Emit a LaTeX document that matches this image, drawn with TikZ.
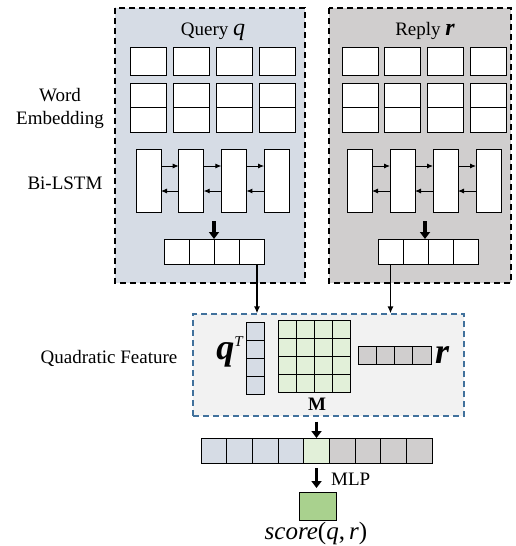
\documentclass[tikz,border=0pt]{standalone}
\usepackage{fontspec}
\setmainfont{Liberation Serif}
\usetikzlibrary{arrows.meta}
\definecolor{qblue}{HTML}{D6DCE5}
\definecolor{rgray}{HTML}{D0CECE}
\definecolor{mgreen}{HTML}{E2F0D9}
\definecolor{sgreen}{HTML}{A9D18E}
\definecolor{dblue}{HTML}{41719C}
\definecolor{qfbg}{HTML}{F2F2F2}
\begin{document}
\begin{tikzpicture}[x=1pt,y=-1pt,
  cell/.style={draw=black, line width=1pt, fill=white, inner sep=0pt, outer sep=0pt},
  panel/.style={draw=black, line width=1.5pt, dash pattern=on 6pt off 4pt},
  qfpanel/.style={draw=dblue, line width=1.2pt, dash pattern=on 6pt off 4pt, fill=qfbg, inner sep=0pt},
  smallarr/.style={-{Latex[length=6pt,width=5pt]}, line width=0.9pt},
  bigarr/.style={-{Triangle[length=7pt,width=10pt]}, line width=3.3pt},
  conn/.style={-{Latex[length=7pt,width=6pt]}, line width=1.4pt},
  lbl/.style={font=\fontsize{19}{23}\selectfont, inner sep=0pt, align=center},
]
\useasboundingbox (0,0) rectangle (515,546);

% panels
\path[panel, fill=qblue] (115,8) rectangle (305,283);
\path[panel, fill=rgray] (329,8) rectangle (511,283);
\node[qfpanel, minimum width=271pt, minimum height=102pt] (qf) at (328.5,365) {};

% titles
\node[lbl, anchor=base] (qtitle) at (213,35) {Query {\fontsize{24}{24}\selectfont\itshape q}};
\node[lbl, anchor=base] (rtitle) at (425,35) {Reply {\fontsize{24}{24}\selectfont\bfseries\itshape r}};

% left labels
\node[lbl] (we) at (60,108) {Word\\Embedding};
\node[lbl, anchor=base] (bil) at (65,189) {Bi-LSTM};
\node[lbl, anchor=base] (qfl) at (109,363) {Quadratic Feature};

% query side
\foreach \i in {1,...,4} {
  \node[cell, minimum width=36pt, minimum height=28pt, anchor=north west] (qe\i) at ({130+43*(\i-1)},47) {};
  \node[cell, minimum width=36pt, minimum height=24.5pt, anchor=north west] (qwa\i) at ({130+43*(\i-1)},83) {};
  \node[cell, minimum width=36pt, minimum height=24.5pt, anchor=north west] (qwb\i) at (qwa\i.south west) {};
  \node[cell, minimum width=25pt, minimum height=63pt, anchor=north west] (ql\i) at ({136+42.7*(\i-1)},149) {};
  \node[cell, minimum width=25pt, minimum height=25pt, anchor=north west] (qv\i) at ({164+25*(\i-1)},239) {};
}
% reply side
\foreach \i in {1,...,4} {
  \node[cell, minimum width=36pt, minimum height=28pt, anchor=north west] (re\i) at ({342+42.67*(\i-1)},47) {};
  \node[cell, minimum width=36pt, minimum height=24.5pt, anchor=north west] (rwa\i) at ({342+42.67*(\i-1)},83) {};
  \node[cell, minimum width=36pt, minimum height=24.5pt, anchor=north west] (rwb\i) at (rwa\i.south west) {};
  \node[cell, minimum width=25pt, minimum height=63pt, anchor=north west] (rl\i) at ({347+43*(\i-1)},149) {};
  \node[cell, minimum width=25pt, minimum height=25pt, anchor=north west] (rv\i) at ({378+25*(\i-1)},239) {};
}
\foreach \i/\j in {1/2,2/3,3/4} {
  \draw[smallarr] ([yshift=14.5pt]ql\i.east) -- ([yshift=14.5pt]ql\j.west);
  \draw[smallarr] ([yshift=-10.5pt]ql\j.west) -- ([yshift=-10.5pt]ql\i.east);
  \draw[smallarr] ([yshift=14.5pt]rl\i.east) -- ([yshift=14.5pt]rl\j.west);
  \draw[smallarr] ([yshift=-10.5pt]rl\j.west) -- ([yshift=-10.5pt]rl\i.east);
}
\coordinate (qa) at (214,221);
\coordinate (ra) at (425,221);
\draw[bigarr] (qa) -- (qa |- qv2.north);
\draw[bigarr] (ra) -- (ra |- rv2.north);

% connectors to quadratic feature
\path ([xshift=5.5pt]qv4.south) coordinate (qd);
\draw[conn] (qd) -- (qd |- qf.north);
\draw[conn] (rv1.south) -- (rv1.south |- qf.north);

% quadratic feature content
\foreach \j in {1,...,4} {
  \node[cell, fill=qblue, minimum size=18pt, anchor=north west] (qt\j) at (246,{322+18*(\j-1)}) {};
  \node[cell, fill=rgray, minimum width=18.25pt, minimum height=18pt, anchor=north west] (rr\j) at ({358+18.25*(\j-1)},346) {};
  \foreach \i in {1,...,4} {
    \node[cell, fill=mgreen, minimum size=18pt, anchor=north west] (m\i\j) at ({278+18*(\i-1)},{320+18*(\j-1)}) {};
  }
}
\node[inner sep=0pt, anchor=base east] (qtl) at (243,359) {{\fontsize{36}{36}\selectfont\bfseries\itshape q}\raisebox{13pt}{\fontsize{15}{15}\selectfont\itshape T}};
\node[inner sep=0pt, anchor=west] (rlab) at (435,355) {\fontsize{36}{36}\selectfont\bfseries\itshape r};
\node[inner sep=0pt, font=\fontsize{19}{19}\selectfont\bfseries] (ml) at (317,404) {M};

% concatenated vector
\foreach \i/\c in {1/qblue,2/qblue,3/qblue,4/qblue,5/mgreen,6/rgray,7/rgray,8/rgray,9/rgray} {
  \node[cell, fill=\c, minimum width=25.67pt, minimum height=25pt, anchor=north west] (cv\i) at ({201+25.67*(\i-1)},438) {};
}
\path (qf.south -| cv5.north) coordinate (t1);
\draw[bigarr, shorten <=5pt] (t1) -- (cv5.north);

% score
\node[cell, fill=sgreen, minimum width=37pt, minimum height=28pt, anchor=north west] (sc) at (299,492) {};
\draw[bigarr, shorten <=5pt, shorten >=4pt] (cv5.south) -- (cv5.south |- sc.north);
\node[lbl, anchor=west] (mlp) at (331,479) {MLP};
\node[inner sep=0pt, font=\fontsize{25}{25}\selectfont] (st) at (316,533) {\textit{score}(\textit{q},\,\textit{r})};
\end{tikzpicture}
\end{document}
